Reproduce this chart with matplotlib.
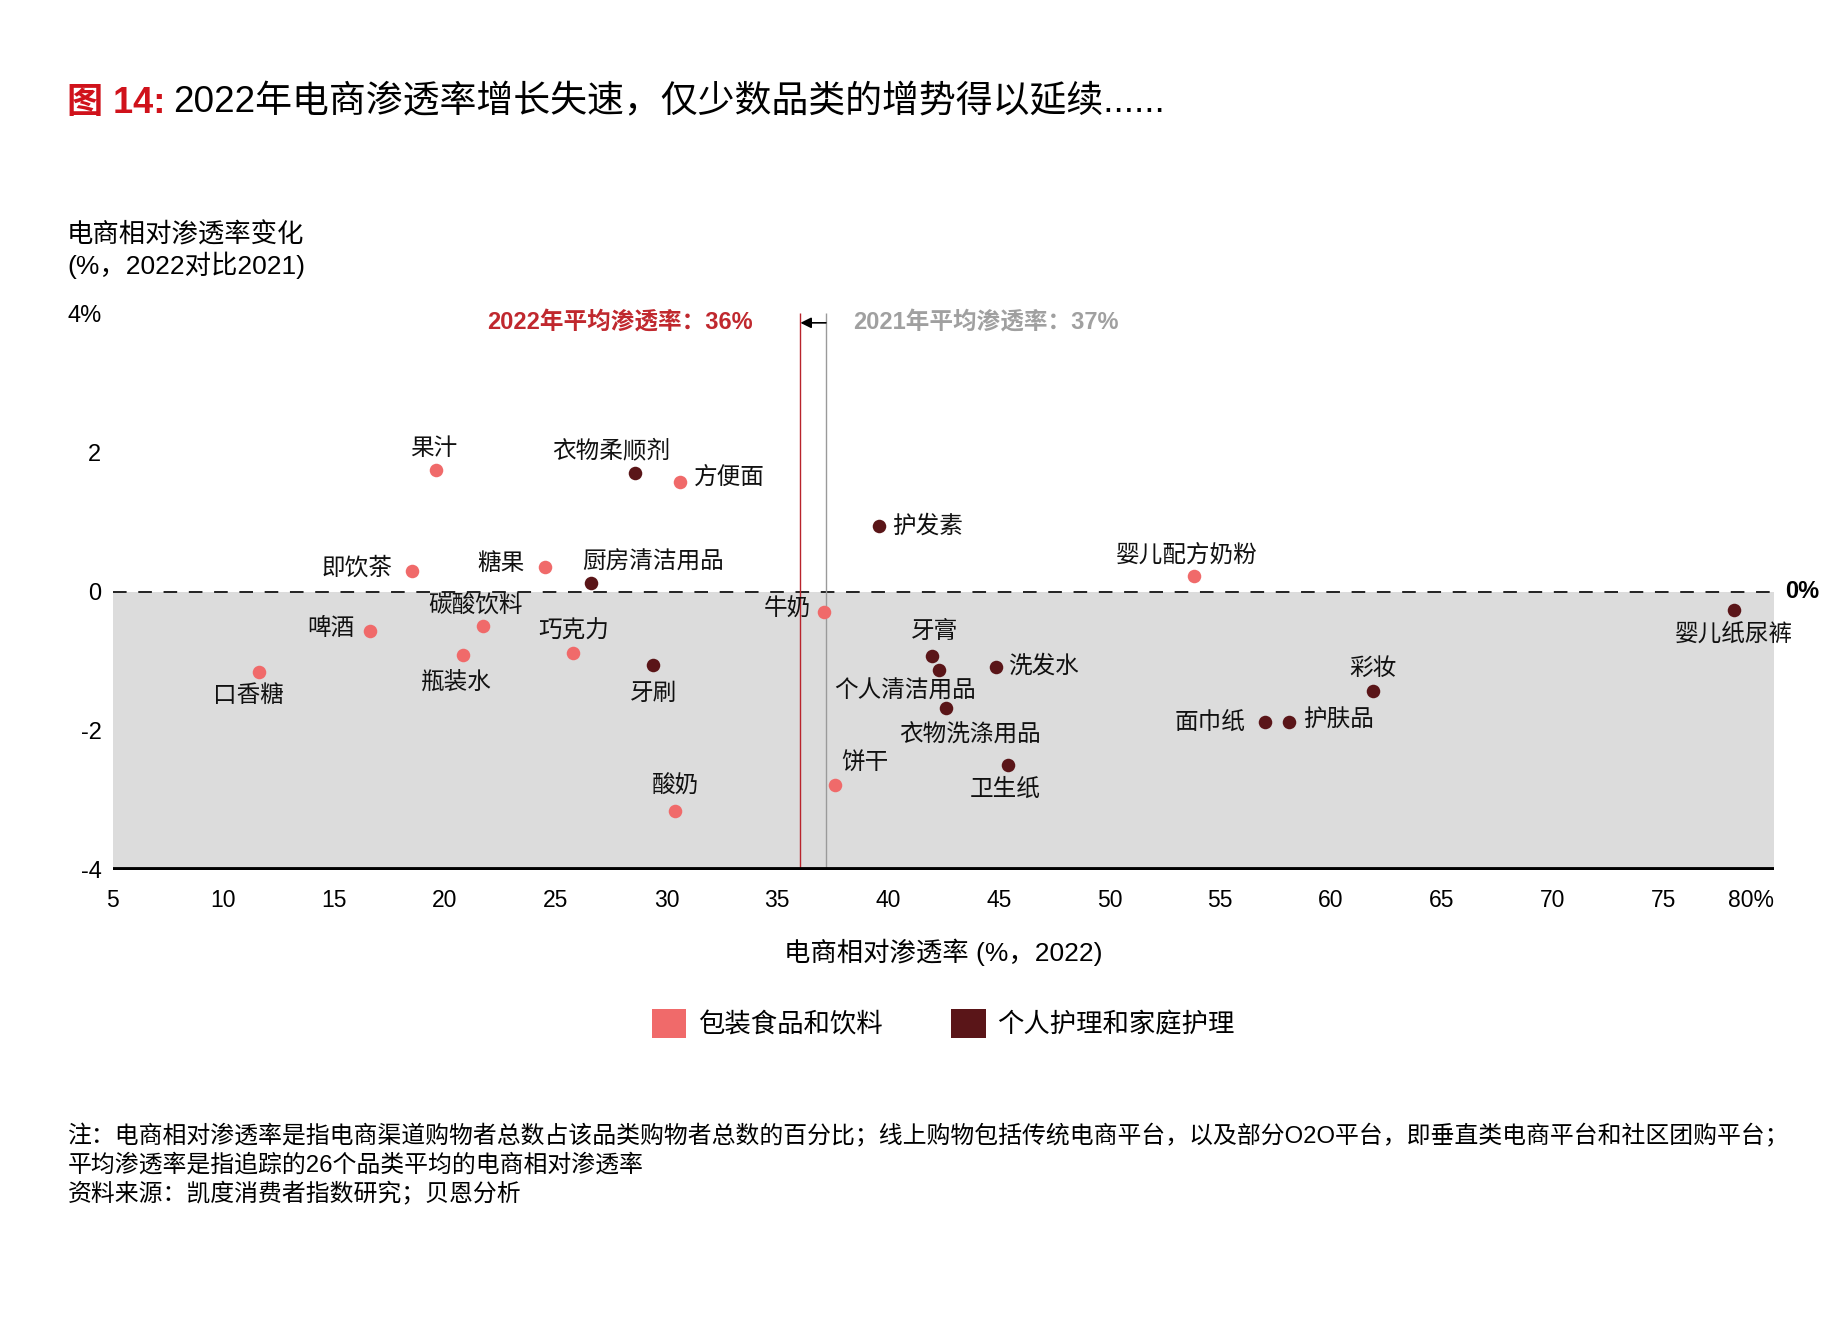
import matplotlib
matplotlib.use("Agg")
import matplotlib.pyplot as plt
from matplotlib.patches import Patch

plt.rcParams['font.family'] = ['Liberation Sans', 'Noto Sans CJK SC', 'DejaVu Sans']

# ---------------- data ----------------
names = ["果汁", "衣物柔顺剂", "方便面", "护发素", "即饮茶", "糖果", "厨房清洁用品",
         "婴儿配方奶粉", "婴儿纸尿裤", "牛奶", "碳酸饮料", "啤酒", "瓶装水", "巧克力",
         "牙刷", "口香糖", "牙膏", "个人清洁用品", "洗发水", "衣物洗涤用品", "彩妆",
         "面巾纸", "护肤品", "卫生纸", "饼干", "酸奶"]
penetration_2022 = [19.6, 28.6, 30.6, 39.6, 18.5, 24.5, 26.6,
                    53.8, 78.2, 37.1, 21.7, 16.6, 20.8, 25.8,
                    29.4, 11.6, 42.0, 42.3, 44.9, 42.6, 61.9,
                    57.0, 58.1, 45.4, 37.6, 30.4]
change_vs_2021 = [1.75, 1.70, 1.57, 0.94, 0.30, 0.35, 0.12,
                  0.22, -0.27, -0.29, -0.49, -0.57, -0.91, -0.88,
                  -1.06, -1.16, -0.93, -1.13, -1.08, -1.67, -1.43,
                  -1.87, -1.87, -2.49, -2.78, -3.16]
group = [0, 1, 0, 1, 0, 0, 1,
         0, 1, 0, 0, 0, 0, 0,
         1, 0, 1, 1, 1, 1, 1,
         1, 1, 1, 0, 0]
group_names = ["包装食品和饮料", "个人护理和家庭护理"]
avg_2022 = 36.05
avg_2021 = 37.2
avg_2022_label = "2022年平均渗透率：36%"
avg_2021_label = "2021年平均渗透率：37%"
x_ticks = [5, 10, 15, 20, 25, 30, 35, 40, 45, 50, 55, 60, 65, 70, 75, 80]
x_tick_labels = ["5", "10", "15", "20", "25", "30", "35", "40", "45", "50", "55",
                 "60", "65", "70", "75", "80%"]
y_ticks = [-4, -2, 0, 2, 4]
y_tick_labels = ["-4", "-2", "0", "2", "4%"]

# ---------------- styling ----------------
colors = ["#f06a6a", "#5a1518"]
# label placement: (ha, dx_pt, dy_pt)
label_pos = [("center", -1.7, 15.2), ("center", -17.7, 16), ("left", 10, 3.4),
             ("left", 9.3, 0), ("right", -13.5, 1.7), ("right", -14.3, 2.5),
             ("center", 44.7, 15.2), ("center", -5, 15.2), ("center", 0, -17.7),
             ("right", -9.3, 1.7), ("center", -5, 14.3), ("right", -11, 1.7),
             ("center", -4.2, -20.3), ("center", 0, 15.2), ("center", 0, -21),
             ("center", -7.6, -16.9), ("center", 1.7, 16.9), ("center", -24.5, -15.2),
             ("left", 8.4, 0), ("center", 17.7, -20.3), ("center", 0, 16),
             ("right", -13.5, -0.8), ("left", 10, 1.7), ("center", -1.7, -17.7),
             ("center", 22, 16), ("center", 0, 17.7)]

fig = plt.figure(figsize=(18.39, 13.38), dpi=100)
ax = fig.add_axes([0.0612, 0.3498, 0.9035, 0.4162])
ax.set_xlim(5, 80)
ax.set_ylim(-4, 4)
for s in ax.spines.values():
    s.set_visible(False)

ax.axhspan(-4, 0, color="#dcdcdc", zorder=0, lw=0)
ax.axhline(0, color="#222222", lw=1.4, dashes=(7, 6), zorder=1)
ax.axhline(-4, color="black", lw=4.2, zorder=2)

ax.vlines(avg_2022, -4, 4, color="#b8232b", lw=1.0, zorder=1)
ax.vlines(avg_2021, -4, 4, color="#9a9a9a", lw=1.0, zorder=1)
ax.annotate("", xy=(avg_2022, 3.86), xytext=(avg_2021, 3.86),
            arrowprops=dict(arrowstyle="-|>", color="black", lw=1.2,
                            mutation_scale=16, shrinkA=0, shrinkB=0))
ax.text(33.9, 3.86, avg_2022_label, ha="right", va="center", fontsize=17,
        fontweight="bold", color="#c0282e")
ax.text(38.45, 3.86, avg_2021_label, ha="left", va="center", fontsize=17,
        fontweight="bold", color="#a0a0a0")
ax.text(80.5, 0, "0%", ha="left", va="center", fontsize=17, fontweight="bold")

for i in range(len(names)):
    ax.scatter(penetration_2022[i], change_vs_2021[i], s=95, color=colors[group[i]],
               zorder=4, linewidths=0)
    ha, dx, dy = label_pos[i]
    ax.annotate(names[i], (penetration_2022[i], change_vs_2021[i]),
                xytext=(dx, dy), textcoords="offset points", ha=ha, va="center",
                fontsize=17, color="#111111", zorder=5)

ax.set_xticks(x_ticks)
ax.set_xticklabels(x_tick_labels, fontsize=16.5)
ax.get_xticklabels()[-1].set_horizontalalignment("right")
ax.set_yticks(y_ticks)
ax.set_yticklabels(y_tick_labels, fontsize=17)
ax.tick_params(axis="both", length=0)
ax.tick_params(axis="x", pad=14)
ax.tick_params(axis="y", pad=8)
ax.set_xlabel("电商相对渗透率 (%，2022)", fontsize=19, labelpad=19)

fig.text(0.0365, 0.8125, "电商相对渗透率变化\n(%，2022对比2021)", fontsize=19,
         ha="left", va="center", linespacing=1.2)

# title
t1 = fig.text(0.0365, 0.923, "图 14:", fontsize=26, fontweight="bold",
              color="#d0121b", ha="left", va="center")
fig.canvas.draw()
bb = t1.get_window_extent(renderer=fig.canvas.get_renderer())
x2 = bb.x1 / fig.bbox.width + 0.004
fig.text(x2, 0.923, "2022年电商渗透率增长失速，仅少数品类的增势得以延续......",
         fontsize=26.6, color="black", ha="left", va="center")

handles = [Patch(facecolor=colors[k], edgecolor="none", label=group_names[k])
           for k in range(2)]
fig.legend(handles=handles, loc="center", bbox_to_anchor=(0.513, 0.235), ncol=2,
           frameon=False, fontsize=19, handlelength=1.3, handleheight=1.3,
           handletextpad=0.45, columnspacing=2.6)

foot = ("注：电商相对渗透率是指电商渠道购物者总数占该品类购物者总数的百分比；线上购物包括传统电商平台，以及部分O2O平台，即垂直类电商平台和社区团购平台；\n"
        "平均渗透率是指追踪的26个品类平均的电商相对渗透率\n"
        "资料来源：凯度消费者指数研究；贝恩分析")
fig.text(0.037, 0.129, foot, fontsize=17.2, ha="left", va="center", linespacing=1.3)

fig.savefig("out.png", dpi=100)
